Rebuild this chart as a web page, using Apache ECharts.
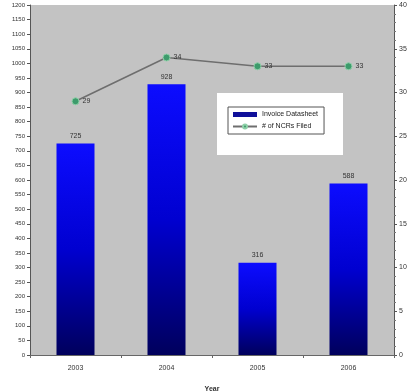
<!DOCTYPE html>
<html>
<head>
<meta charset="utf-8">
<script src="https://cdn.jsdelivr.net/npm/echarts@6/dist/echarts.min.js"></script>
<style>
  html, body { margin: 0; padding: 0; background: #ffffff; }
  #chart { width: 414px; height: 392px; }
</style>
</head>
<body>
<div id="chart"></div>
<script>
// Yearly invoice counts (bars, left axis) and NCRs filed (line, right axis)
var years = ['2003', '2004', '2005', '2006'];
var invoiceCounts = [725, 928, 316, 588];
var ncrCounts = [29, 34, 33, 33];

var chart = echarts.init(document.getElementById('chart'));
var font = 'Liberation Sans, Arial, sans-serif';

chart.setOption({
  animation: false,
  textStyle: { fontFamily: font },
  grid: {
    left: 30, right: 20, top: 5, bottom: 37,
    outerBoundsMode: 'none', containLabel: false,
    show: true, backgroundColor: '#c3c3c3', borderWidth: 0
  },
  graphic: [{
    type: 'rect', z: 3,
    shape: { x: 217, y: 93, width: 126, height: 62 },
    style: { fill: '#ffffff' }
  }],
  legend: {
    orient: 'vertical', left: 228, top: 107, z: 5,
    borderColor: '#555555', borderWidth: 1, padding: [4, 6, 4, 4],
    itemGap: 5, itemWidth: 24, itemHeight: 5,
    textStyle: { fontSize: 7, color: '#222222', fontFamily: font },
    data: [
      { name: 'Invoice Datasheet', icon: 'rect', itemStyle: { color: '#10109a' } },
      { name: '# of NCRs Filed' }
    ]
  },
  xAxis: {
    type: 'category', data: years,
    name: 'Year', nameLocation: 'middle', nameGap: 31,
    nameTextStyle: { fontSize: 7, color: '#333333', fontWeight: 'bold' },
    axisLine: { lineStyle: { color: '#666666' } },
    axisTick: { show: true, length: 3, lineStyle: { color: '#666666' } },
    axisLabel: { fontSize: 7, color: '#333333', margin: 10 }
  },
  yAxis: [{
    type: 'value', min: 0, max: 1200, interval: 50, position: 'left',
    splitLine: { show: false },
    axisLine: { show: true, lineStyle: { color: '#555555' } },
    axisTick: { show: true, length: 3, lineStyle: { color: '#555555' } },
    axisLabel: { fontSize: 6, color: '#333333', margin: 5, formatter: function (v) { return String(v); } }
  }, {
    type: 'value', min: 0, max: 40, interval: 5, position: 'right',
    splitLine: { show: false },
    axisLine: { show: true, lineStyle: { color: '#555555' } },
    axisTick: { show: true, length: 3, lineStyle: { color: '#555555' } },
    minorTick: { show: true, splitNumber: 5, length: 2, lineStyle: { color: '#777777' } },
    axisLabel: { fontSize: 7, color: '#333333', margin: 5 }
  }],
  series: [{
    name: 'Invoice Datasheet', type: 'bar', yAxisIndex: 0,
    data: invoiceCounts, barWidth: 38,
    itemStyle: {
      color: new echarts.graphic.LinearGradient(0, 0, 0, 1, [
        { offset: 0, color: '#0c0cff' },
        { offset: 0.5, color: '#0000d0' },
        { offset: 1, color: '#00005c' }
      ])
    },
    label: { show: true, position: 'top', distance: 4, fontSize: 7, color: '#333333' }
  }, {
    name: '# of NCRs Filed', type: 'line', yAxisIndex: 1,
    data: ncrCounts,
    symbol: 'circle', symbolSize: 7,
    lineStyle: { color: '#6e6e6e', width: 1.5 },
    itemStyle: { color: '#3d9b6c', borderColor: '#8fd0a8', borderWidth: 1 },
    label: { show: true, position: 'right', distance: 3, fontSize: 7, color: '#333333' }
  }]
});
</script>
</body>
</html>
